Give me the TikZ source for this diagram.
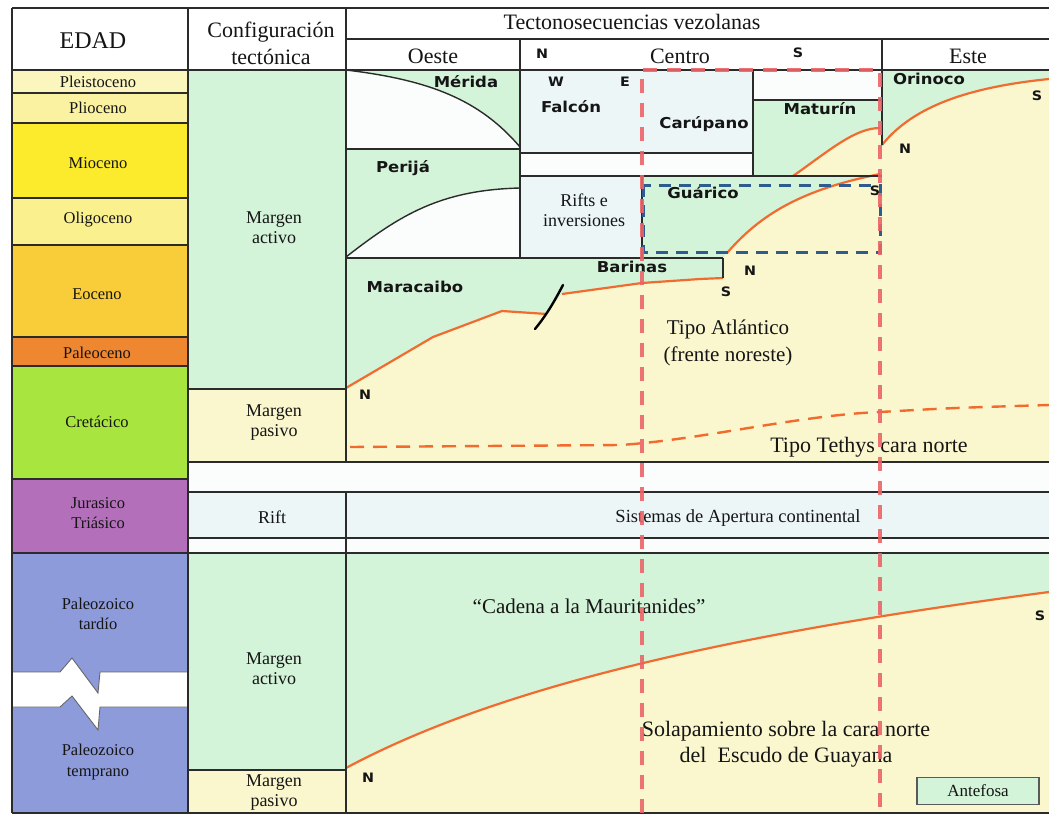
\documentclass[tikz,border=0pt]{standalone}
\usepackage{fontspec}
\usepackage{graphicx}
\setmainfont{Liberation Serif}
\newfontfamily\lblfont{DejaVu Sans}
\newcommand\widelbl[1]{\scalebox{1.1}[1]{#1}}

% period colours
\definecolor{pleis}{HTML}{FBF6BE}
\definecolor{plio}{HTML}{FAF2A0}
\definecolor{mio}{HTML}{FBEB2C}
\definecolor{oligo}{HTML}{FAF08E}
\definecolor{eoc}{HTML}{F9CD3A}
\definecolor{paleoc}{HTML}{EF8730}
\definecolor{cret}{HTML}{A8E53F}
\definecolor{jur}{HTML}{B36FBA}
\definecolor{paleoz}{HTML}{8E9BDA}
% fills and strokes
\definecolor{grn}{HTML}{D4F4D9}
\definecolor{pyel}{HTML}{FAF6CE}
\definecolor{cellb}{HTML}{EDF6F7}
\definecolor{cellw}{HTML}{FBFCFC}
\definecolor{lineclr}{HTML}{2B2B2B}
\definecolor{orangeln}{HTML}{F26B2E}
\definecolor{redln}{HTML}{EC6468}
\definecolor{blueln}{HTML}{2E5C8E}
\definecolor{txt}{HTML}{151515}

\tikzset{
  rule/.style={draw=lineclr, line width=1.3pt},
  limitcurve/.style={draw=lineclr, line width=1.4pt},
  sflbl/.style={font=\lblfont\bfseries\fontsize{15}{17}\selectfont, text=txt, inner sep=0pt},
  dirlbl/.style={font=\lblfont\bfseries\fontsize{13}{15}\selectfont, text=txt, inner sep=0pt},
  hdr/.style={font=\fontsize{22}{27}\selectfont, text=txt, inner sep=0pt, align=center},
  agelbl/.style={font=\fontsize{16.5}{20.5}\selectfont, text=txt, inner sep=0pt, align=center},
  cfglbl/.style={font=\fontsize{18}{20}\selectfont, text=txt, inner sep=0pt, align=center},
  biglbl/.style={font=\fontsize{22}{26}\selectfont, text=txt, inner sep=0pt, align=center},
  contact/.style={draw=orangeln, line width=2.2pt},
  tethys/.style={draw=orangeln, line width=2.4pt, dash pattern=on 14pt off 9pt},
  frontier/.style={draw=redln, line width=4pt, dash pattern=on 14pt off 10pt, opacity=0.9},
  basin/.style={draw=blueln, line width=3pt, dash pattern=on 12pt off 8pt},
  breakedge/.style={draw=black!60, line width=0.9pt},
}

\begin{document}
\begin{tikzpicture}[x=1pt,y=-1pt]
\useasboundingbox (0,0) rectangle (1049,814);
\fill[white] (0,0) rectangle (1049,814);

% ---- age column ----
\fill[pleis]  (12,70)  rectangle (188,93);
\fill[plio]   (12,93)  rectangle (188,123);
\fill[mio]    (12,123) rectangle (188,198);
\fill[oligo]  (12,198) rectangle (188,245);
\fill[eoc]    (12,245) rectangle (188,337);
\fill[paleoc] (12,337) rectangle (188,366);
\fill[cret]   (12,366) rectangle (188,479);
\fill[jur]    (12,479) rectangle (188,553);
\fill[paleoz] (12,553) rectangle (188,813);
% time break in the Paleozoic
\fill[white] (12,672) -- (60,672) -- (72,658) -- (98,693) -- (100,672) -- (188,672)
  -- (188,707) -- (100,707) -- (98,730) -- (72,696) -- (60,707) -- (12,707) -- cycle;
\draw[breakedge] (12,672) -- (60,672) -- (72,658) -- (98,693) -- (100,672) -- (188,672);
\draw[breakedge] (12,707) -- (60,707) -- (72,696) -- (98,730) -- (100,707) -- (188,707);

% ---- tectonic setting column and full-width rows ----
\fill[grn]   (188,70)  rectangle (346,389);
\fill[pyel]  (188,389) rectangle (346,462);
\fill[cellw] (188,462) rectangle (1049,492);
\fill[cellb] (188,492) rectangle (1049,538);
\fill[cellw] (188,538) rectangle (1049,553);
\fill[grn]   (188,553) rectangle (346,770);
\fill[pyel]  (188,770) rectangle (346,813);

% ---- Cenozoic-Cretaceous sequences ----
\fill[pyel] (346,70) rectangle (1049,462);
% Oeste
\fill[cellw] (346,70) rectangle (520,258);
\fill[grn] (346,70) -- (520,70) -- (520,147) .. controls (480,100) and (430,80) .. (346,70) -- cycle;
\fill[grn] (346,149) -- (520,149) -- (520,188) .. controls (440,190) and (400,215) .. (346,257) -- cycle;
% Centro
\fill[cellb] (520,70)  rectangle (753,153);
\fill[cellw] (520,153) rectangle (753,176);
\fill[cellw] (753,70)  rectangle (882,100);
\fill[grn] (753,100) -- (882,100) -- (882,128) -- (880,128) .. controls (855,128) and (830,150) .. (793,176) -- (753,176) -- cycle;
\fill[cellb] (520,176) rectangle (642,258);
\fill[grn] (642,176) -- (882,176) -- (880,174) .. controls (800,190) and (760,215) .. (727,253) -- (723,258) -- (642,258) -- cycle;
% Maracaibo and Barinas
\fill[grn] (346,258) -- (723,258) -- (723,278) -- (700,279) -- (642,283) -- (562,294) -- (545,313)
  -- (502,311) -- (433,337) -- (346,388) -- cycle;
% Este
\fill[grn] (882,70) -- (1049,70) -- (1049,79) .. controls (960,88) and (910,110) .. (882,145) -- cycle;

% ---- Paleozoic ----
\fill[pyel] (346,553) rectangle (1049,813);
\fill[grn] (346,553) -- (1049,553) -- (1049,592) .. controls (760,630) and (510,680) .. (346,768) -- cycle;

% ---- basin limits in the Oeste column ----
\draw[limitcurve] (346,70) .. controls (430,80) and (480,100) .. (520,147);
\draw[limitcurve] (346,257) .. controls (400,215) and (440,190) .. (520,188);

% ---- contacts ----
\draw[contact] (346,388) -- (433,337) -- (502,311) -- (547,314);
\draw[contact] (562,294) -- (642,283) -- (700,279) -- (723,278);
\draw[contact] (727,253) .. controls (760,215) and (800,190) .. (880,174);
\draw[contact] (793,176) .. controls (830,150) and (855,128) .. (880,128);
\draw[contact] (882,145) .. controls (910,110) and (960,88) .. (1049,79);
\draw[contact] (346,768) .. controls (510,680) and (760,630) .. (1049,592);
\draw[tethys] (350,447) -- (620,445) .. controls (700,440) and (800,415) .. (880,412)
  .. controls (950,408) .. (1049,405);
% fault
\draw[line width=2.4pt, line cap=round] (535,329) .. controls (548,313) and (555,300) .. (563,285);

% ---- table rules ----
\draw[rule] (12,8) -- (1049,8);
\draw[rule] (346,39) -- (1049,39);
\draw[rule] (12,70) -- (1049,70);
\draw[rule] (12,813) -- (1049,813);
\draw[rule] (12,8) -- (12,813);
\draw[rule] (188,8) -- (188,813);
\draw[rule] (346,8) -- (346,462);
\draw[rule] (346,492) -- (346,813);
\draw[rule] (520,39) -- (520,258);
\draw[rule] (882,39) -- (882,145);
\draw[rule] (753,70) -- (753,176);
\draw[rule] (642,176) -- (642,258);
\draw[rule] (723,258) -- (723,278);
\foreach \yy in {93,123,198,245,337,366,479} \draw[rule] (12,\yy) -- (188,\yy);
\draw[rule] (346,149) -- (520,149);
\draw[rule] (346,258) -- (723,258);
\draw[rule] (520,153) -- (753,153);
\draw[rule] (520,176) -- (882,176);
\draw[rule] (753,100) -- (882,100);
\draw[rule] (188,389) -- (346,389);
\draw[rule] (188,770) -- (346,770);
\draw[rule] (188,462) -- (1049,462);
\draw[rule] (188,492) -- (1049,492);
\draw[rule] (188,538) -- (1049,538);
\draw[rule] (12,553) -- (1049,553);

% ---- headers ----
\node[hdr, font=\fontsize{24}{27}\selectfont] (edad) at (93,41) {EDAD};
\node[hdr] (config) at (271,43) {Configuración\\tectónica};
\node[hdr] (tecto) at (632,22) {Tectonosecuencias vezolanas};
\node[hdr] (oeste) at (433,56) {Oeste};
\node[hdr] (centro) at (680,56) {Centro};
\node[hdr] (este) at (968,56) {Este};
\node[dirlbl] (hn) at (542,54) {\widelbl{N}};
\node[dirlbl] (hs) at (798,53) {\widelbl{S}};

% ---- ages ----
\node[agelbl] (a1) at (98,82) {Pleistoceno};
\node[agelbl] (a2) at (98,108) {Plioceno};
\node[agelbl] (a3) at (98,163) {Mioceno};
\node[agelbl] (a4) at (98,220) {Oligoceno};
\node[agelbl] (a5) at (97,294) {Eoceno};
\node[agelbl] (a6) at (97,353) {Paleoceno};
\node[agelbl] (a7) at (97,422) {Cretácico};
\node[agelbl] (a8) at (98,513) {Jurasico\\Triásico};
\node[agelbl] (a9) at (98,614) {Paleozoico\\tardío};
\node[agelbl] (a10) at (98,762) {Paleozoico\\temprano};

% ---- tectonic settings ----
\node[cfglbl] (c1) at (274,228) {Margen\\activo};
\node[cfglbl] (c2) at (274,423) {Margen\\pasivo};
\node[cfglbl] (c3) at (272,517) {Rift};
\node[cfglbl] (c4) at (274,669) {Margen\\activo};
\node[cfglbl] (c5) at (274,793) {Margen\\pasivo};

% ---- basins ----
\node[sflbl] (merida) at (466,82) {\widelbl{Mérida}};
\node[sflbl] (perija) at (403,168) {\widelbl{Perijá}};
\node[dirlbl] (fw) at (556,82) {\widelbl{W}};
\node[dirlbl] (fe) at (625,82) {\widelbl{E}};
\node[sflbl] (falcon) at (571,107) {\widelbl{Falcón}};
\node[sflbl] (carupano) at (704,124) {\widelbl{Carúpano}};
\node[sflbl] (maturin) at (820,109) {\widelbl{Maturín}};
\node[sflbl] (orinoco) at (929,79) {\widelbl{Orinoco}};
\node[dirlbl] (os) at (1037,96) {\widelbl{S}};
\node[dirlbl] (on) at (905,149) {\widelbl{N}};
\node[sflbl] (guarico) at (703,193) {\widelbl{Guárico}};
\node[dirlbl] (gs) at (875,191) {\widelbl{S}};
\node[cfglbl] (rifts) at (584,210) {Rifts e\\inversiones};
\node[sflbl] (barinas) at (632,267) {\widelbl{Barinas}};
\node[dirlbl] (bn) at (750,271) {\widelbl{N}};
\node[dirlbl] (bs) at (726,292) {\widelbl{S}};
\node[sflbl] (maracaibo) at (415,287) {\widelbl{Maracaibo}};
\node[dirlbl] (mn) at (365,395) {\widelbl{N}};

% ---- margin types ----
\node[biglbl, font=\fontsize{21}{27}\selectfont] (atl) at (728,343) {Tipo Atlántico\\(frente noreste)};
\node[biglbl] (tethys) at (869,447) {Tipo Tethys cara norte};
\node[biglbl, font=\fontsize{18.5}{20}\selectfont] (apert) at (738,518) {Sistemas de Apertura continental};
\node[biglbl, font=\fontsize{21}{26}\selectfont] (cadena) at (589,606) {“Cadena a la Mauritanides”};
\node[biglbl] (solap) at (786,744) {Solapamiento sobre la cara norte\\del\ \ Escudo de Guayana};
\node[dirlbl] (pn) at (368,778) {\widelbl{N}};
\node[dirlbl] (ps) at (1040,616) {\widelbl{S}};

% ---- legend ----
\node[draw=black!65, line width=1.3pt, fill=grn, minimum width=122pt, minimum height=27pt,
      inner sep=0pt, font=\fontsize{17}{19}\selectfont, text=txt] (antefosa) at (978,791) {Antefosa};

% ---- highlighted areas ----
\draw[basin] (643,185) rectangle (880,252);
\draw[frontier] (642,813) -- (642,70) -- (880,70) -- (880,813);
\end{tikzpicture}
\end{document}
